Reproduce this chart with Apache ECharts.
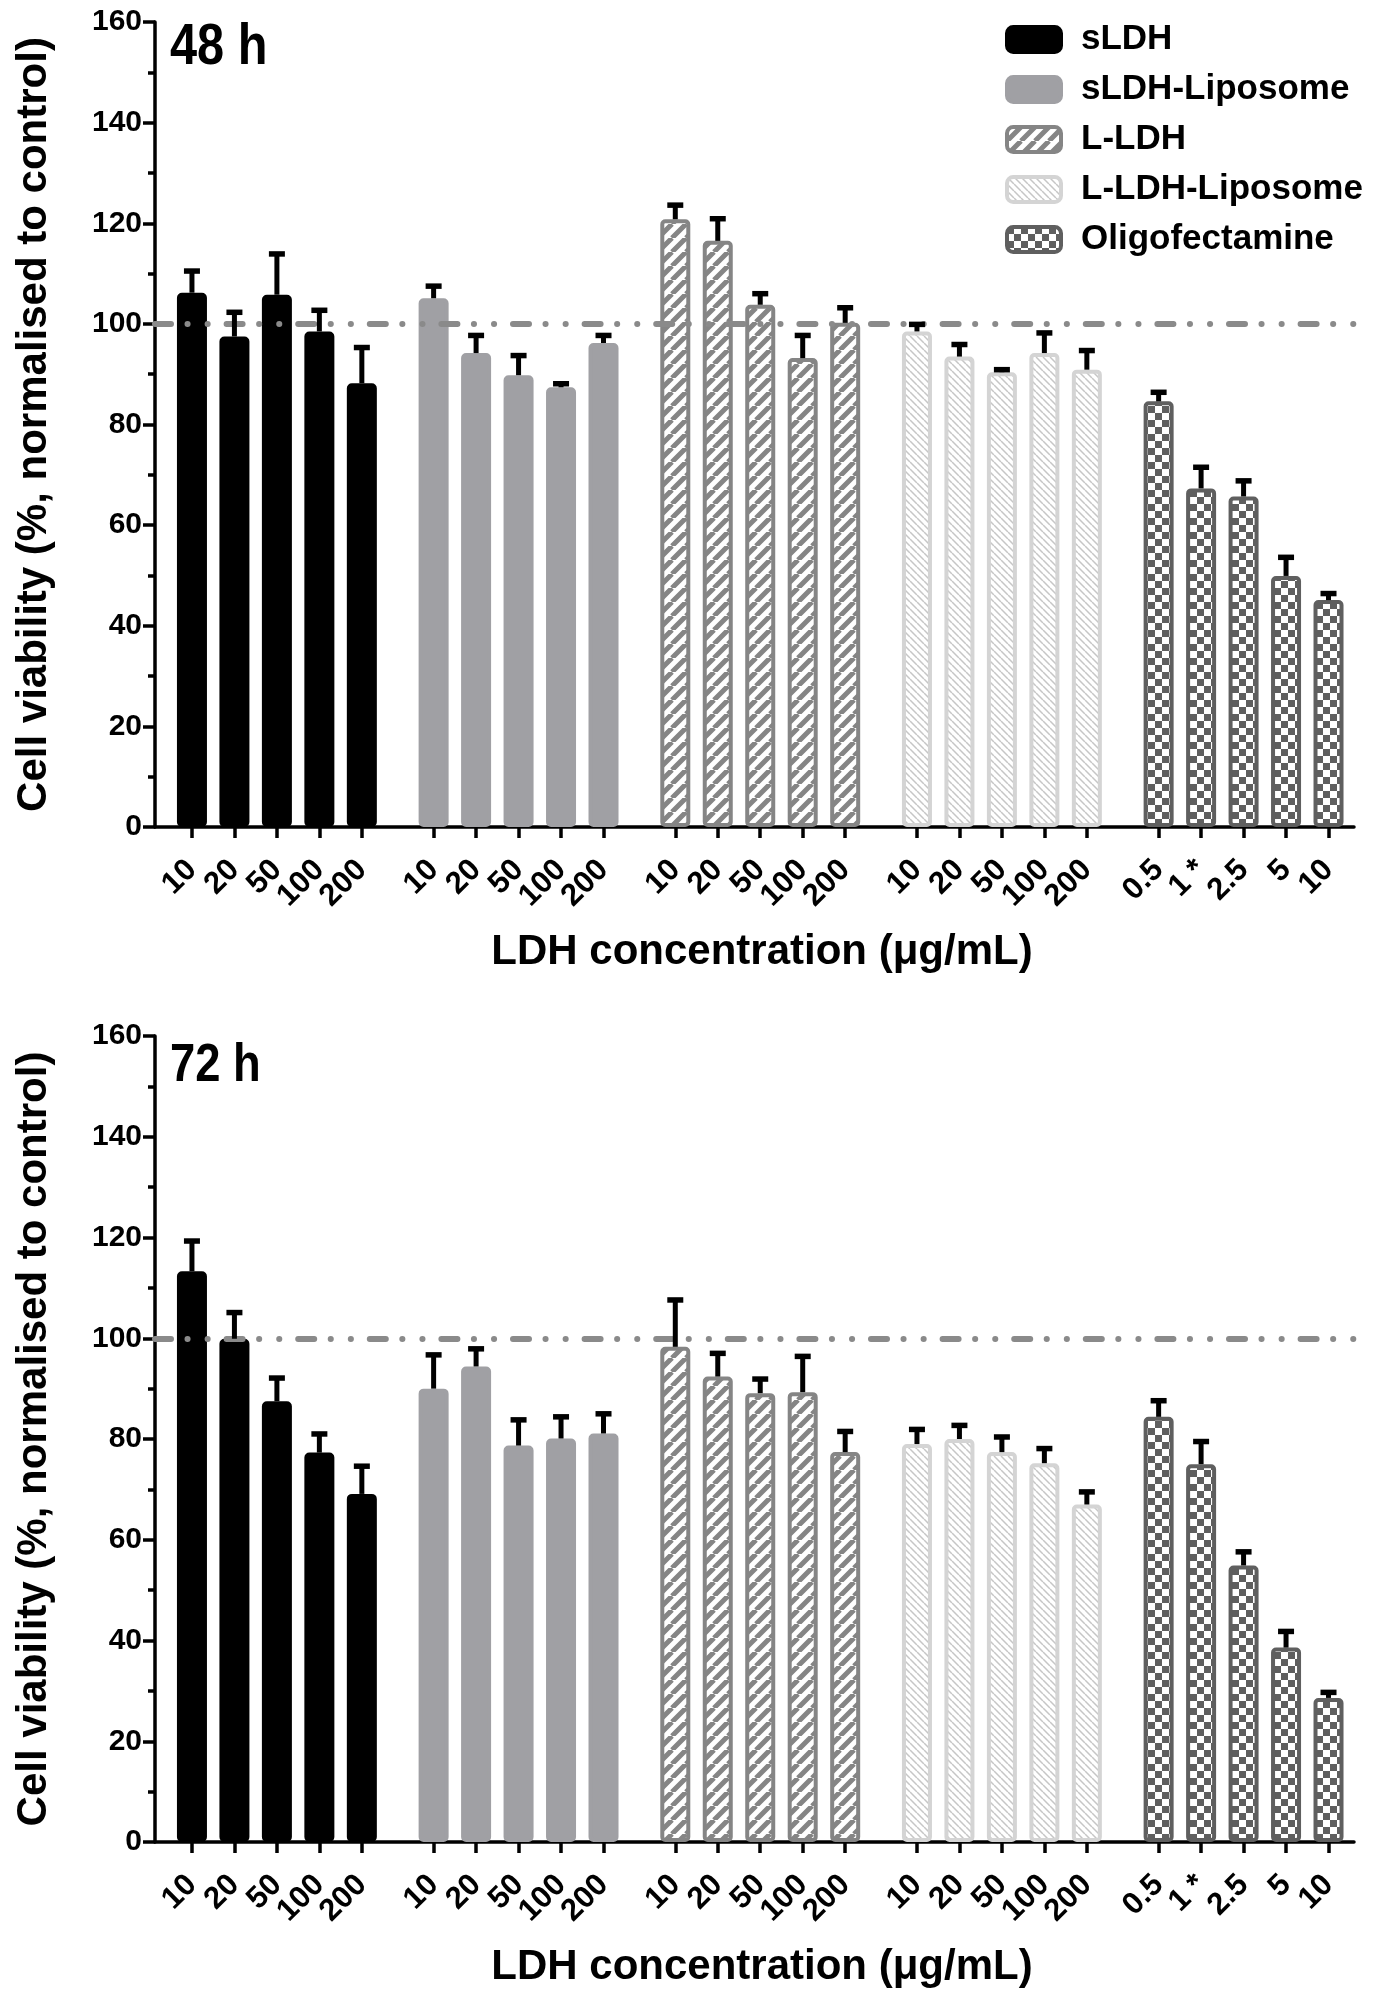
<!DOCTYPE html>
<html lang="en">
<head>
<meta charset="UTF-8">
<title>Cell viability</title>
<style>html,body{margin:0;padding:0;background:#fff}</style>
</head>
<body>
<div class="main" style="width:1376px;height:1999px"></div>
<script src="https://cdn.jsdelivr.net/npm/echarts@6/dist/echarts.min.js"></script>
<script>
    // groups and x tick labels
    var groupNames = ['sLDH', 'sLDH-Liposome', 'L-LDH', 'L-LDH-Liposome', 'Oligofectamine'];
    var ldhDoses = ['10', '20', '50', '100', '200'];
    var oligoDoses = ['0.5', '1 *', '2.5', '5', '10'];
    var panelTitles = ['48 h', '72 h'];

    // 48 h means / SD
    var sldh48 = [106.2, 97.5, 105.8, 98.5, 88.2];
    var sldh48Sd = [4.3, 4.8, 8.1, 4.2, 7.1];
    var sldhLipo48 = [105.1, 94.2, 89.8, 87.4, 96.2];
    var sldhLipo48Sd = [2.4, 3.5, 3.9, 0.7, 1.5];
    var lldh48 = [120.8, 116.5, 103.8, 93.2, 100.2];
    var lldh48Sd = [2.8, 4.4, 2.2, 4.5, 3.0];
    var lldhLipo48 = [98.5, 93.5, 90.4, 94.2, 90.9];
    var lldhLipo48Sd = [1.4, 2.4, 0.5, 4.0, 3.8];
    var oligo48 = [84.6, 67.3, 65.7, 49.9, 45.1];
    var oligo48Sd = [1.8, 4.2, 3.1, 3.7, 1.3];

    // 72 h means / SD
    var sldh72 = [113.3, 99.9, 87.5, 77.3, 69.1];
    var sldh72Sd = [6.0, 5.2, 4.6, 3.7, 5.5];
    var sldhLipo72 = [90.0, 94.4, 78.7, 80.1, 81.1];
    var sldhLipo72Sd = [6.7, 3.5, 5.1, 4.3, 3.9];
    var lldh72 = [98.3, 92.4, 89.1, 89.3, 77.4];
    var lldh72Sd = [9.3, 4.6, 2.8, 7.1, 4.1];
    var lldhLipo72 = [79.0, 80.0, 77.4, 75.2, 67.0];
    var lldhLipo72Sd = [2.9, 2.7, 3.0, 2.9, 2.5];
    var oligo72 = [84.4, 75.0, 54.9, 38.6, 28.6];
    var oligo72Sd = [3.2, 4.5, 2.7, 3.2, 1.1];

    var means = [
        [sldh48, sldhLipo48, lldh48, lldhLipo48, oligo48],
        [sldh72, sldhLipo72, lldh72, lldhLipo72, oligo72]
    ];
    var sds = [
        [sldh48Sd, sldhLipo48Sd, lldh48Sd, lldhLipo48Sd, oligo48Sd],
        [sldh72Sd, sldhLipo72Sd, lldh72Sd, lldhLipo72Sd, oligo72Sd]
    ];

    var FONT = '"Liberation Sans", Arial, Helvetica, sans-serif';
    var GROUP_STEP = 5.69;   // distance between groups, in bar slots
    var X_MIN = -0.87;
    var X_MAX = 4 * GROUP_STEP + 4 + 0.6;

    function barPos(g, i) {
        return g * GROUP_STEP + i;
    }

    var tickPos = [];
    var tickText = [];
    for (var g = 0; g < 5; g++) {
        for (var i = 0; i < 5; i++) {
            tickPos.push(barPos(g, i));
            tickText.push(g === 4 ? oligoDoses[i] : ldhDoses[i]);
        }
    }
    // blank labels at both ends so the end labels are never dropped as overlapping
    var labelPos = [X_MIN].concat(tickPos, [X_MAX]);

    // fill patterns
    function hatch(size, width, color, back) {
        var c = document.createElement('canvas');
        c.width = c.height = size;
        var ctx = c.getContext('2d');
        ctx.fillStyle = '#fff';
        ctx.fillRect(0, 0, size, size);
        ctx.strokeStyle = color;
        ctx.lineWidth = width;
        ctx.beginPath();
        for (var k = -1; k <= 1; k++) {
            if (back) {
                ctx.moveTo(k * size, 0);
                ctx.lineTo(k * size + size, size);
            } else {
                ctx.moveTo(k * size, size);
                ctx.lineTo(k * size + size, 0);
            }
        }
        ctx.stroke();
        return {image: c, repeat: 'repeat'};
    }

    function checker(cell, color) {
        var c = document.createElement('canvas');
        c.width = c.height = cell * 2;
        var ctx = c.getContext('2d');
        ctx.fillStyle = '#fff';
        ctx.fillRect(0, 0, cell * 2, cell * 2);
        ctx.fillStyle = color;
        ctx.fillRect(0, 0, cell, cell);
        ctx.fillRect(cell, cell, cell, cell);
        return {image: c, repeat: 'repeat'};
    }

    var groupStyles = [
        {color: '#000000', borderColor: '#000000'},
        {color: '#a0a0a4', borderColor: '#a0a0a4'},
        {color: hatch(14, 5, '#858585', false), borderColor: '#858585'},
        {color: hatch(7, 1.5, '#c6c6c6', true), borderColor: '#d4d4d4'},
        {color: checker(7, '#5f5f5f'), borderColor: '#5f5f5f'}
    ];

    var grids = [
        {left: 155, right: 22, top: 22, height: 805},
        {left: 155, right: 22, top: 1036, height: 806}
    ];

    var xAxes = [];
    var yAxes = [];
    var series = [];

    grids.forEach(function (grid, p) {
        xAxes.push({
            type: 'value',
            gridIndex: p,
            min: X_MIN,
            max: X_MAX,
            name: 'LDH concentration (\u03bcg/mL)',
            nameLocation: 'middle',
            nameGap: 104,
            nameTextStyle: {fontFamily: FONT, fontWeight: 'bold', fontSize: 42, color: '#000', padding: [0, 0, 0, 15]},
            axisLine: {show: true, onZero: false, lineStyle: {color: '#000', width: 3.5}},
            axisTick: {show: true, customValues: tickPos, length: 11, lineStyle: {color: '#000', width: 3.5}},
            axisLabel: {
                customValues: labelPos,
                rotate: 45,
                margin: 38,
                fontFamily: FONT,
                fontWeight: 'bold',
                fontSize: 31,
                color: '#000',
                formatter: function (v) {
                    for (var k = 0; k < tickPos.length; k++) {
                        if (Math.abs(tickPos[k] - v) < 1e-6) return tickText[k];
                    }
                    return ' ';
                }
            },
            splitLine: {show: false}
        });
        yAxes.push({
            type: 'value',
            gridIndex: p,
            min: 0,
            max: 160,
            interval: 20,
            name: 'Cell viability (%, normalised to control)',
            nameLocation: 'middle',
            nameRotate: 90,
            nameGap: 100,
            nameTextStyle: {fontFamily: FONT, fontWeight: 'bold', fontSize: 42, color: '#000'},
            axisLine: {show: true, onZero: false, lineStyle: {color: '#000', width: 3.5}},
            axisTick: {show: true, length: 12, lineStyle: {color: '#000', width: 3.5}},
            minorTick: {show: true, splitNumber: 2, length: 7, lineStyle: {color: '#000', width: 3.5}},
            axisLabel: {margin: 13, fontFamily: FONT, fontWeight: 'bold', fontSize: 30, color: '#000'},
            splitLine: {show: false}
        });

        var errData = [];
        groupNames.forEach(function (name, gi) {
            var vals = means[p][gi];
            var st = groupStyles[gi];
            series.push({
                type: 'bar',
                name: name,
                xAxisIndex: p,
                yAxisIndex: p,
                barWidth: 30,
                barGap: '-100%',
                itemStyle: {
                    color: st.color,
                    borderColor: st.borderColor,
                    borderWidth: 4,
                    borderRadius: 3
                },
                data: vals.map(function (v, i) { return [barPos(gi, i), v]; })
            });
            vals.forEach(function (v, i) {
                errData.push([barPos(gi, i), v, sds[p][gi][i]]);
            });
        });

        series.push({
            type: 'custom',
            name: 'err' + p,
            xAxisIndex: p,
            yAxisIndex: p,
            silent: true,
            z: 10,
            encode: {x: 0, y: 1},
            data: errData,
            renderItem: function (params, api) {
                var base = api.coord([api.value(0), api.value(1)]);
                var top = api.coord([api.value(0), api.value(1) + api.value(2)]);
                return {
                    type: 'group',
                    children: [
                        {type: 'line', shape: {x1: base[0], y1: base[1], x2: top[0], y2: top[1]},
                            style: {stroke: '#000', lineWidth: 5}},
                        {type: 'line', shape: {x1: top[0] - 8, y1: top[1], x2: top[0] + 8, y2: top[1]},
                            style: {stroke: '#000', lineWidth: 5.5}}
                    ]
                };
            },
            markLine: {
                silent: true,
                symbol: ['none', 'none'],
                label: {show: false},
                z: 5,
                lineStyle: {
                    color: '#8a8a8a',
                    width: 6,
                    type: [16, 16.5, 0.1, 20, 0.1, 18.9],
                    cap: 'round'
                },
                data: [{yAxis: 100}]
            }
        });
    });

    var legendData = groupNames.map(function (n) {
        return {name: n, itemStyle: {borderWidth: 4}};
    });

    var option = {
        animation: false,
        backgroundColor: '#fff',
        grid: grids,
        xAxis: xAxes,
        yAxis: yAxes,
        legend: {
            orient: 'vertical',
            left: 1000,
            top: 17,
            icon: 'roundRect',
            itemWidth: 54,
            itemHeight: 25,
            itemGap: 15,
            data: legendData,
            selectedMode: false,
            textStyle: {
                fontFamily: FONT,
                fontWeight: 'bold',
                fontSize: 35,
                color: '#000',
                padding: [0, 0, 0, 15]
            }
        },
        graphic: [
            {type: 'text', left: 170, top: 19, scaleX: 0.84,
                style: {text: panelTitles[0], fill: '#000', font: 'bold 58px ' + FONT}},
            {type: 'text', left: 170, top: 1039, scaleX: 0.84,
                style: {text: panelTitles[1], fill: '#000', font: 'bold 54px ' + FONT}}
        ],
        series: series
    };

    var main = document.querySelector('.main');
    var chart = echarts.init(main);
    chart.setOption(option);
</script>
</body>
</html>
